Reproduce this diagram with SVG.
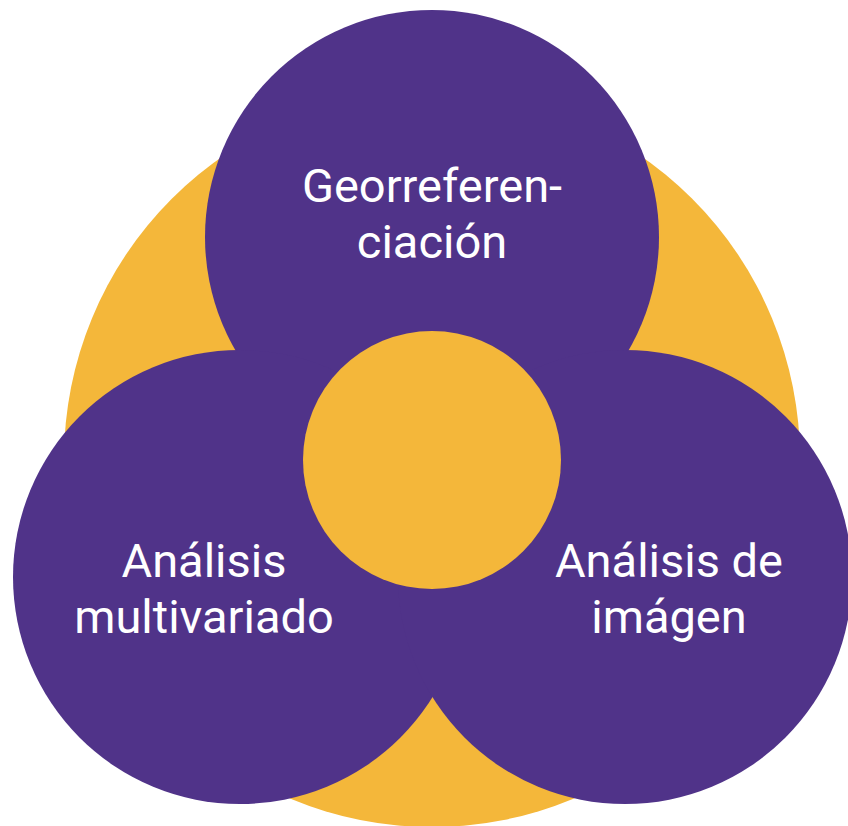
<svg xmlns="http://www.w3.org/2000/svg" width="848" height="826" viewBox="0 0 848 826">
<style>
.yellow{fill:#F4B73A}
.purple{fill:#503389}
.lbl{font-family:Roboto,"Liberation Sans",sans-serif;font-size:47px;fill:#FFFFFF;text-anchor:middle}
</style>
<rect x="0" y="0" width="848" height="826" fill="#FFFFFF"/>
<g id="background">
<circle class="yellow" cx="432" cy="459" r="368"/>
</g>
<g id="node-top">
<circle class="purple" cx="432" cy="237" r="227"/>
<text class="lbl" x="432" y="202">Georreferen-</text>
<text class="lbl" x="432" y="258">ciación</text>
</g>
<g id="node-left">
<circle class="purple" cx="240" cy="577" r="227"/>
<text class="lbl" x="204" y="577">Análisis</text>
<text class="lbl" x="204" y="633">multivariado</text>
</g>
<g id="node-right">
<circle class="purple" cx="625" cy="577" r="227"/>
<text class="lbl" x="669" y="577">Análisis de</text>
<text class="lbl" x="669" y="633">imágen</text>
</g>
<g id="node-center">
<circle class="yellow" cx="432" cy="460" r="129"/>
</g>
<g id="connectors"></g>
</svg>
